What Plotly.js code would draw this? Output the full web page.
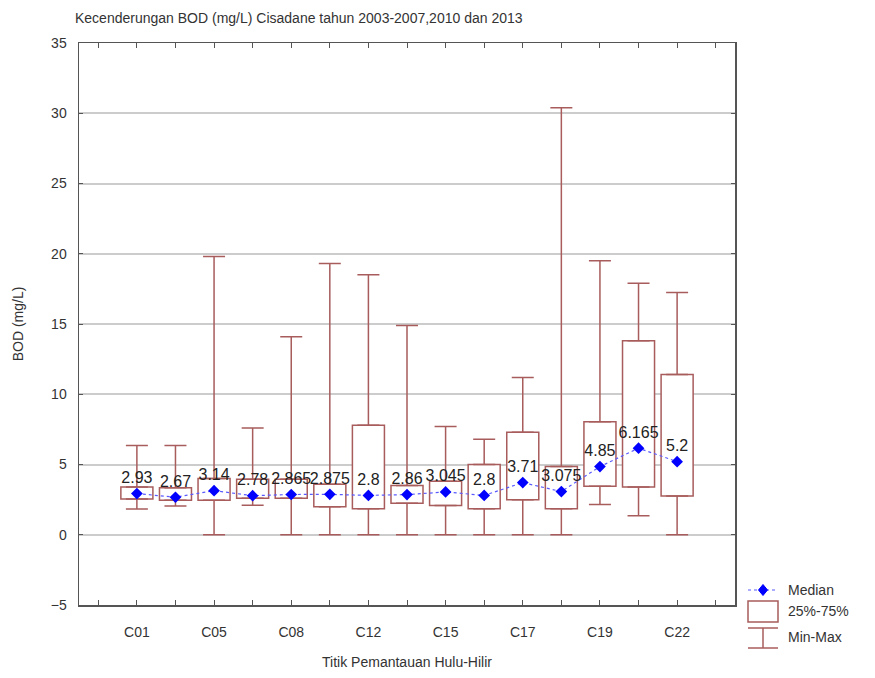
<!DOCTYPE html>
<html>
<head>
<meta charset="utf-8">
<script src="https://cdn.plot.ly/plotly-3.0.1.min.js"></script>
<style>html,body{margin:0;padding:0;background:#fff;}#chart{width:875px;height:678px;}</style>
</head>
<body>
<div id="chart"></div>
<script>
// Data
const categories = ["C01","C03","C05","C07","C08","C10","C12","C14","C15","C16","C17","C18","C19","C20","C22"];
const medians = [2.93, 2.67, 3.14, 2.78, 2.865, 2.875, 2.8, 2.86, 3.045, 2.8, 3.71, 3.075, 4.85, 6.165, 5.2];
const q1 = [2.55, 2.45, 2.45, 2.6, 2.6, 2.0, 1.85, 2.25, 2.08, 1.85, 2.5, 1.85, 3.45, 3.4, 2.75];
const q3 = [3.4, 3.35, 4.0, 3.95, 3.95, 3.6, 7.8, 3.5, 3.8, 5.0, 7.3, 4.85, 8.05, 13.8, 11.4];
const mins = [1.83, 2.05, 0, 2.1, 0, 0, 0, 0, 0, 0, 0, 0, 2.15, 1.35, 0];
const maxs = [6.35, 6.35, 19.8, 7.6, 14.1, 19.3, 18.5, 14.9, 7.7, 6.8, 11.2, 30.4, 19.5, 17.9, 17.25];
const yTicks = [-5, 0, 5, 10, 15, 20, 25, 30, 35];
const legendLabels = ["Median", "25%-75%", "Min-Max"];

const boxColor = "#a85c5c";
const pos = categories.map((c, i) => i + 1);
const tickVals = [];
const tickText = [];
for (let i = 0; i <= categories.length + 1; i++) {
  tickVals.push(i);
  const ci = i - 1;
  tickText.push(ci >= 0 && ci < categories.length && ci % 2 === 0 ? categories[ci] : "");
}

const traces = [
  {
    type: "bar", x: pos, base: q1, y: q3.map((v, i) => v - q1[i]),
    width: 0.83,
    marker: {color: "#ffffff", line: {color: boxColor, width: 1.5}},
    showlegend: false, hoverinfo: "skip"
  },
  {
    type: "scatter", mode: "markers", x: pos, y: q3,
    marker: {color: "rgba(0,0,0,0)", size: 1},
    error_y: {type: "data", symmetric: false, array: maxs.map((v, i) => v - q3[i]),
              arrayminus: q3.map(() => 0), color: boxColor, thickness: 1.5, width: 11},
    showlegend: false, hoverinfo: "skip"
  },
  {
    type: "scatter", mode: "markers", x: pos, y: q1,
    marker: {color: "rgba(0,0,0,0)", size: 1},
    error_y: {type: "data", symmetric: false, array: q1.map(() => 0),
              arrayminus: q1.map((v, i) => v - mins[i]), color: boxColor, thickness: 1.5, width: 11},
    showlegend: false, hoverinfo: "skip"
  },
  {
    type: "scatter", mode: "lines+markers+text", x: pos, y: medians,
    text: medians.map(v => String(v)), textposition: "top center",
    textfont: {family: "Liberation Sans, Arial, sans-serif", size: 16, color: "#222"},
    line: {color: "#5a5aff", width: 1.2, dash: "dot"},
    marker: {symbol: "diamond", size: 9, color: "#0000ff"},
    showlegend: false, cliponaxis: false
  }
];

const L = 79, R = 735, T = 43, B = 605;
const W = R - L, H = B - T;
const pxp = x => (x - L) / W;
const pyp = y => (B - y) / H;
const dx = 4.5, cx = 763, cy = 590;
const diamondPath = "M " + pxp(cx) + "," + pyp(cy - dx - 1) + " L " + pxp(cx + dx) + "," + pyp(cy) +
  " L " + pxp(cx) + "," + pyp(cy + dx + 1) + " L " + pxp(cx - dx) + "," + pyp(cy) + " Z";
const legendShapes = [
  {type: "line", xref: "paper", yref: "paper", x0: pxp(748), x1: pxp(778), y0: pyp(590), y1: pyp(590),
   line: {color: "#5a5aff", width: 1.2, dash: "dot"}},
  {type: "path", xref: "paper", yref: "paper", path: diamondPath, fillcolor: "#0000ff", line: {color: "#0000ff", width: 1}},
  {type: "rect", xref: "paper", yref: "paper", x0: pxp(748), x1: pxp(778), y0: pyp(601), y1: pyp(622),
   line: {color: boxColor, width: 1.5}, fillcolor: "#ffffff"},
  {type: "line", xref: "paper", yref: "paper", x0: pxp(748), x1: pxp(778), y0: pyp(628), y1: pyp(628),
   line: {color: boxColor, width: 1.5}},
  {type: "line", xref: "paper", yref: "paper", x0: pxp(763), x1: pxp(763), y0: pyp(628), y1: pyp(648),
   line: {color: boxColor, width: 1.5}},
  {type: "line", xref: "paper", yref: "paper", x0: pxp(748), x1: pxp(778), y0: pyp(648), y1: pyp(648),
   line: {color: boxColor, width: 1.5}}
];
const legendFont = {family: "Liberation Sans, Arial, sans-serif", size: 14, color: "#333"};
const legendY = [590, 611, 637];
const annotations = legendLabels.map((t, i) => ({
  xref: "paper", yref: "paper", x: pxp(786), y: pyp(legendY[i]), text: t, showarrow: false,
  xanchor: "left", yanchor: "middle", font: legendFont
}));

const fnt = {family: "Liberation Sans, Arial, sans-serif", size: 14, color: "#333"};
const layout = {
  width: 875, height: 678,
  margin: {l: L, r: 875 - R, t: T, b: 678 - B, pad: 0},
  paper_bgcolor: "#fff", plot_bgcolor: "#fff",
  showlegend: false,
  title: {text: "Kecenderungan BOD (mg/L) Cisadane tahun 2003-2007,2010 dan 2013",
          font: {family: "Liberation Sans, Arial, sans-serif", size: 14, color: "#333"},
          x: 75 / 875, xanchor: "left", y: 1 - 18 / 678, yanchor: "middle"},
  font: fnt,
  xaxis: {
    range: [-0.5, categories.length + 1.5], tickmode: "array", tickvals: tickVals, ticktext: tickText,
    showgrid: false, zeroline: false, showline: true, linecolor: "#555", linewidth: 1.5, mirror: "ticks",
    ticks: "inside", ticklen: 5, tickcolor: "#555", tickfont: fnt, ticklabelstandoff: 14,
    title: {text: "Titik Pemantauan Hulu-Hilir", font: fnt, standoff: 18}
  },
  yaxis: {
    range: [-5, 35], tickmode: "array", tickvals: yTicks,
    showgrid: true, gridcolor: "#cccccc", gridwidth: 2, zeroline: false,
    showline: true, linecolor: "#555", linewidth: 1.5, mirror: "ticks",
    ticks: "inside", ticklen: 4, tickcolor: "#555", tickfont: fnt, ticklabelstandoff: 8,
    title: {text: "BOD (mg/L)", font: fnt, standoff: 24}
  },
  shapes: legendShapes,
  annotations: annotations
};
Plotly.newPlot("chart", traces, layout, {displayModeBar: false, staticPlot: true});
</script>
</body>
</html>
